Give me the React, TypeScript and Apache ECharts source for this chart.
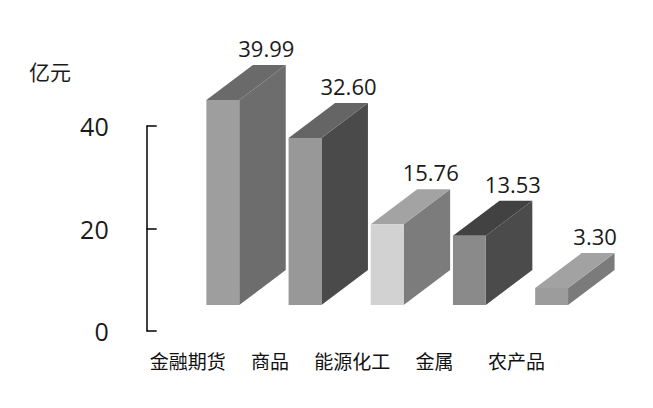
import * as echarts from "echarts";
import { useEffect, useRef } from "react";

// 成交额（亿元）
const categories = ["金融期货", "商品", "能源化工", "金属", "农产品"];
const values = [39.99, 32.6, 15.76, 13.53, 3.3];
const yTicks = [0, 20, 40];

// 每根柱子的三个面的灰度
const frontColors = ["#9e9e9e", "#989898", "#d2d2d2", "#8a8a8a", "#9c9c9c"];
const sideColors = ["#6d6d6d", "#4a4a4a", "#7c7c7c", "#4b4b4b", "#7b7b7b"];
const topColors = ["#6a6a6a", "#656565", "#a3a3a3", "#424242", "#a2a2a2"];

// 3D 投影参数
const FRONT_SHIFT = 35; // 正面相对类目中心的水平偏移
const LIFT = 26; // 正面底边相对 0 刻度的上移
const DEPTH_X = 46.5;
const DEPTH_Y = 35;

export default function App() {
  const chartRef = useRef<HTMLDivElement>(null);

  useEffect(() => {
    if (!chartRef.current) return;
    const chart = echarts.init(chartRef.current, undefined, { renderer: "svg" });

    const renderItem = (params: any, api: any) => {
      const i = api.value(0);
      const v = api.value(1);
      const base = api.coord([i, 0]);
      const top = api.coord([i, v]);
      const slot = api.size([1, 0])[0];
      const w = slot * 0.4;
      const x0 = base[0] + FRONT_SHIFT - w / 2;
      const x1 = x0 + w;
      const yt = top[1] - LIFT;
      const yb = base[1] - LIFT;
      return {
        type: "group",
        children: [
          {
            type: "polygon",
            shape: {
              points: [
                [x1, yt],
                [x1 + DEPTH_X, yt - DEPTH_Y],
                [x1 + DEPTH_X, yb - DEPTH_Y],
                [x1, yb],
              ],
            },
            style: { fill: sideColors[i] },
          },
          {
            type: "polygon",
            shape: {
              points: [
                [x0, yt],
                [x0 + DEPTH_X, yt - DEPTH_Y],
                [x1 + DEPTH_X, yt - DEPTH_Y],
                [x1, yt],
              ],
            },
            style: { fill: topColors[i] },
          },
          {
            type: "rect",
            shape: { x: x0, y: yt, width: w, height: yb - yt },
            style: { fill: frontColors[i] },
          },
          {
            type: "text",
            x: (x0 + x1) / 2 + DEPTH_X - 3,
            y: yt - DEPTH_Y - 17,
            style: {
              text: v.toFixed(2),
              fill: "#1a1a1a",
              fontSize: 22,
              fontFamily: "Open Sans, sans-serif",
              align: "center",
              verticalAlign: "middle",
            },
          },
        ],
      };
    };

    chart.setOption({
      animation: false,
      backgroundColor: "#ffffff",
      grid: { left: 146.7, right: 95.3, top: 126, bottom: 77 },
      graphic: [
        {
          type: "text",
          left: 29,
          top: 60,
          style: {
            text: "亿元",
            fill: "#1a1a1a",
            fontSize: 21,
            fontFamily: "Noto Sans CJK SC, sans-serif",
          },
        },
      ],
      xAxis: {
        type: "category",
        data: categories,
        axisLine: { show: false },
        axisTick: { show: false },
        axisLabel: {
          margin: 20,
          color: "#111",
          fontSize: 19,
          fontFamily: "Noto Sans CJK SC, sans-serif",
          interval: 0,
        },
      },
      yAxis: {
        type: "value",
        min: yTicks[0],
        max: yTicks[yTicks.length - 1],
        interval: yTicks[1] - yTicks[0],
        splitLine: { show: false },
        axisLine: { show: true, lineStyle: { color: "#000", width: 1.5 } },
        axisTick: {
          show: true,
          inside: true,
          length: 10,
          lineStyle: { color: "#000", width: 1.5 },
        },
        axisLabel: {
          margin: 38,
          color: "#1a1a1a",
          fontSize: 25,
          fontFamily: "Open Sans, sans-serif",
        },
      },
      series: [
        {
          type: "custom",
          renderItem,
          clip: false,
          data: values.map((v, i) => [i, v]),
          encode: { x: 0, y: 1 },
        },
      ],
    });

    return () => {
      chart.dispose();
    };
  }, []);

  return (
    <div
      ref={chartRef}
      style={{ position: "fixed", left: 0, top: 0, width: 653, height: 408 }}
    />
  );
}
